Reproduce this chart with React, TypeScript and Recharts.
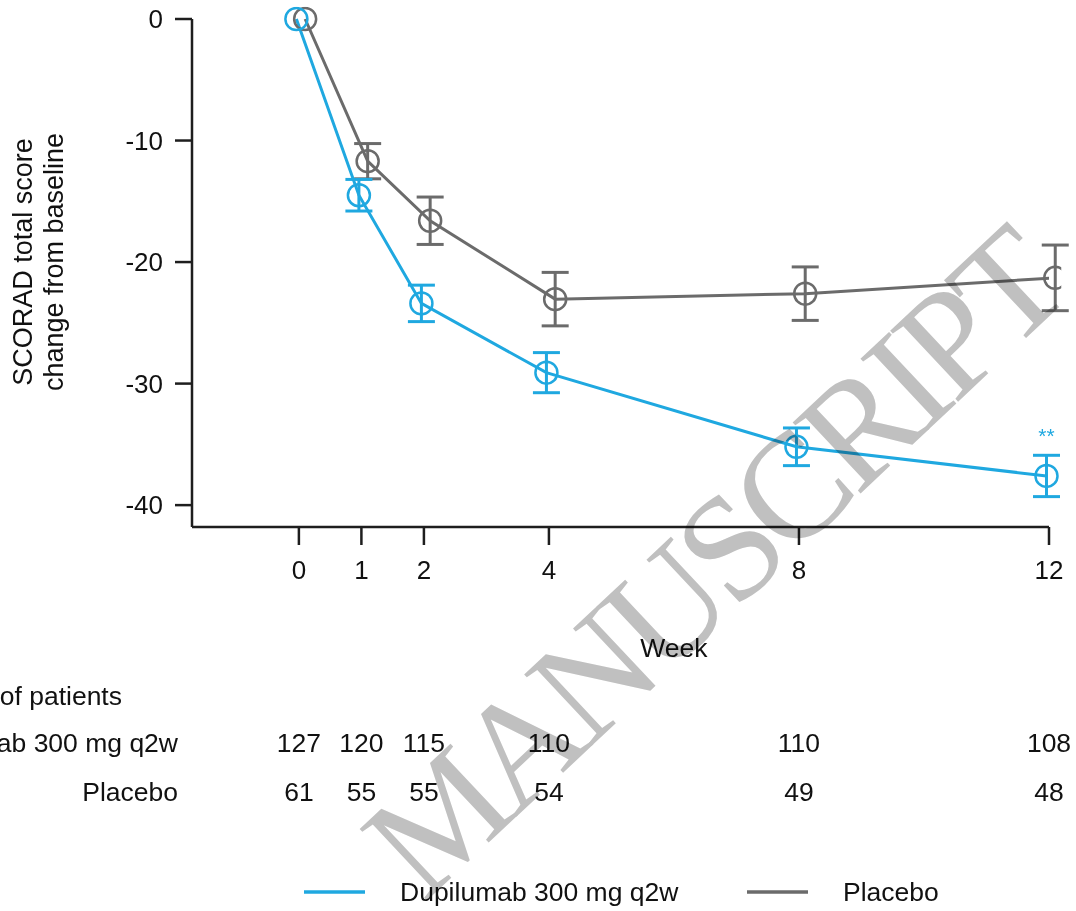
import React from 'react';
import { LineChart, Line, XAxis, YAxis, ErrorBar, Legend } from 'recharts';

// ---- data ----
const weeks = [0, 1, 2, 4, 8, 12];
const dupMean = [0, -14.5, -23.4, -29.1, -35.2, -37.6];
const dupSE = [0, 1.3, 1.5, 1.65, 1.55, 1.7];
const pboMean = [0, -11.7, -16.6, -23.05, -22.6, -21.3];
const pboSE = [0, 1.45, 1.95, 2.2, 2.2, 2.7];
const dupN = [127, 120, 115, 110, 110, 108];
const pboN = [61, 55, 55, 54, 49, 48];
const yTicks = [0, -10, -20, -30, -40];
const seriesNames = ['Dupilumab 300 mg q2w', 'Placebo'];

// ---- presentation constants ----
const X_MIN = -1.71;
const X_MAX = 12;
const Y_MIN = -41.8;
const Y_MAX = 0;
const DODGE_DUP = -0.04;
const DODGE_PBO = 0.1;
const BLUE = '#1fa8e0';
const GRAY = '#6b6b6b';
const AXIS = '#1e1e1e';
const FONT = '"Liberation Sans", Arial, sans-serif';

const dupData = weeks.map((w, i) => ({ x: w + DODGE_DUP, y: dupMean[i], e: dupSE[i] }));
const pboData = weeks.map((w, i) => ({ x: w + DODGE_PBO, y: pboMean[i], e: pboSE[i] }));
const countData = weeks.map((w, i) => ({ x: w, y: dupMean[i] }));

const yLabel = (props: any) => {
  const vb = props.viewBox;
  const cy = vb.y + vb.height / 2 - 11;
  return (
    <g fontFamily={FONT} fontSize={27} fill="#111">
      <text transform={`translate(${vb.x - 80}, ${cy}) rotate(-90)`} textAnchor="middle">SCORAD total score</text>
      <text transform={`translate(${vb.x - 49}, ${cy}) rotate(-90)`} textAnchor="middle">change from baseline</text>
    </g>
  );
};

const weekLabel = (props: any) => {
  const vb = props.viewBox;
  const mid = (weeks[0] + weeks[weeks.length - 1]) / 2;
  const x = vb.x + (vb.width * (mid - X_MIN)) / (X_MAX - X_MIN);
  return (
    <text x={x} y={vb.y + 130} textAnchor="middle" fontFamily={FONT} fontSize={26.5} fill="#111">Week</text>
  );
};

const dupRowLabel = (props: any) => {
  const vb = props.viewBox;
  return (
    <g fontFamily={FONT} fontSize={26.5} fill="#111">
      <text x={vb.x - 70} y={vb.y + 43} textAnchor="end">Number of patients</text>
      <text x={vb.x - 14} y={vb.y + 90} textAnchor="end">{seriesNames[0]}</text>
    </g>
  );
};

const pboRowLabel = (props: any) => {
  const vb = props.viewBox;
  return (
    <text x={vb.x - 14} y={vb.y + 39} textAnchor="end" fontFamily={FONT} fontSize={26.5} fill="#111">{seriesNames[1]}</text>
  );
};

const sigLabel = (p: any) =>
  p.index === weeks.length - 1 ? (
    <text key="sig" x={p.x} y={p.y - 33} textAnchor="middle" fontFamily={FONT} fontSize={21} fill={BLUE}>**</text>
  ) : null;

const legendContent = () => (
  <svg width={1076} height={38} style={{ display: 'block' }}>
    <line x1={304} x2={365} y1={19} y2={19} stroke={BLUE} strokeWidth={3.5} />
    <text x={400} y={28} fontFamily={FONT} fontSize={26.5} fill="#111">{seriesNames[0]}</text>
    <line x1={747} x2={808} y1={19} y2={19} stroke={GRAY} strokeWidth={3.5} />
    <text x={843} y={28} fontFamily={FONT} fontSize={26.5} fill="#111">{seriesNames[1]}</text>
  </svg>
);

export default function App() {
  return (
    <div style={{ position: 'absolute', left: 0, top: 0, width: 1076, height: 911, background: '#fff' }}>
      <LineChart width={1076} height={911} margin={{ top: 19, right: 27, bottom: 0, left: 112 }}>
        <YAxis
          type="number"
          domain={[Y_MIN, Y_MAX]}
          ticks={yTicks}
          interval={0}
          width={80}
          tickSize={17}
          tickMargin={12}
          stroke={AXIS}
          strokeWidth={2.5}
          tick={{ fill: '#111', fontSize: 26, fontFamily: FONT }}
          label={yLabel}
        />
        <XAxis
          type="number"
          dataKey="x"
          domain={[X_MIN, X_MAX]}
          allowDataOverflow
          ticks={weeks}
          interval={0}
          height={135}
          tickSize={18}
          tickMargin={16}
          stroke={AXIS}
          strokeWidth={2.5}
          tick={{ fill: '#111', fontSize: 26, fontFamily: FONT }}
          label={weekLabel}
        />
        <XAxis
          xAxisId="nDup"
          type="number"
          dataKey="x"
          domain={[X_MIN, X_MAX]}
          allowDataOverflow
          ticks={weeks}
          interval={0}
          height={100}
          tickSize={0}
          tickMargin={71}
          axisLine={false}
          tickLine={false}
          tickFormatter={(v: number) => String(dupN[weeks.indexOf(v)])}
          tick={{ fill: '#111', fontSize: 26.5, fontFamily: FONT }}
          label={dupRowLabel}
        />
        <XAxis
          xAxisId="nPbo"
          type="number"
          dataKey="x"
          domain={[X_MIN, X_MAX]}
          allowDataOverflow
          ticks={weeks}
          interval={0}
          height={111}
          tickSize={0}
          tickMargin={20}
          axisLine={false}
          tickLine={false}
          tickFormatter={(v: number) => String(pboN[weeks.indexOf(v)])}
          tick={{ fill: '#111', fontSize: 26.5, fontFamily: FONT }}
          label={pboRowLabel}
        />
        <Legend verticalAlign="bottom" content={legendContent} wrapperStyle={{ left: 0, bottom: 0, width: 1076, height: 38 }} />
        <Line
          xAxisId="nDup"
          data={countData}
          dataKey="y"
          stroke="none"
          dot={false}
          activeDot={false}
          legendType="none"
          isAnimationActive={false}
        />
        <Line
          xAxisId="nPbo"
          data={countData}
          dataKey="y"
          stroke="none"
          dot={false}
          activeDot={false}
          legendType="none"
          isAnimationActive={false}
        />
        <Line
          data={pboData}
          dataKey="y"
          name={seriesNames[1]}
          stroke={GRAY}
          strokeWidth={3}
          dot={{ r: 11, fill: 'none', stroke: GRAY, strokeWidth: 2.5, clipDot: false }}
          activeDot={false}
          isAnimationActive={false}
        >
          <ErrorBar dataKey="e" width={13.5} stroke={GRAY} strokeWidth={3} isAnimationActive={false} />
        </Line>
        <Line
          data={dupData}
          dataKey="y"
          name={seriesNames[0]}
          stroke={BLUE}
          strokeWidth={3}
          dot={{ r: 11, fill: 'none', stroke: BLUE, strokeWidth: 2.5, clipDot: false }}
          activeDot={false}
          label={sigLabel}
          isAnimationActive={false}
        >
          <ErrorBar dataKey="e" width={13.5} stroke={BLUE} strokeWidth={3} isAnimationActive={false} />
        </Line>
      </LineChart>
      <svg
        width={1076}
        height={911}
        style={{ position: 'absolute', left: 0, top: 0, pointerEvents: 'none', mixBlendMode: 'multiply' }}
      >
        <text
          x={747}
          y={600}
          transform="rotate(-43.2 747 600)"
          textAnchor="middle"
          letterSpacing={-8}
          fontFamily='"Liberation Serif", "Times New Roman", serif'
          fontSize={150}
          fill="#c0c0c0"
        >
          MANUSCRIPT
        </text>
      </svg>
    </div>
  );
}
